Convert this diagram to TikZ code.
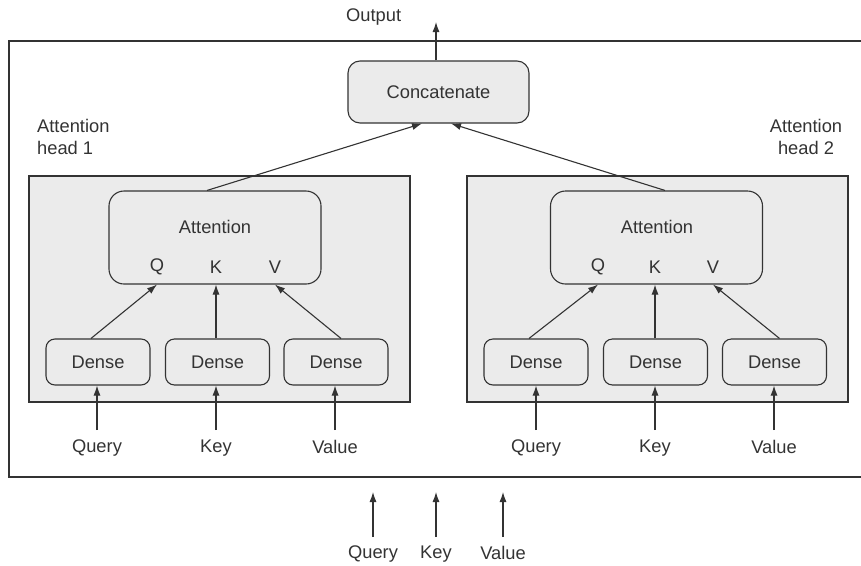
\documentclass[tikz,border=0pt]{standalone}
\usepackage{fontspec}
\setmainfont{Liberation Sans}
\usetikzlibrary{arrows.meta}
\definecolor{ink}{HTML}{333333}
\definecolor{panel}{HTML}{EBEBEB}
\tikzset{
  base/.style={font=\fontsize{18.3}{22}\selectfont, text=ink},
  rbox/.style={draw=ink, line width=1.1pt, fill=panel, rounded corners=9pt, inner sep=0pt},
  arr/.style={draw=ink, line width=1.1pt, -{Latex[length=10pt,width=7pt]}},
  lab/.style={base, inner xsep=0pt, inner ysep=0pt},
  inlab/.style={base, anchor=north, inner xsep=0pt, inner ysep=10pt},
}
\begin{document}
\begin{tikzpicture}[x=1pt,y=-1pt]
\useasboundingbox (0,0) rectangle (861,565);
\clip (0,0) rectangle (861,565);
% outer frame
\draw[ink, line width=1.2pt] (870,41) -- (9,41) -- (9,477) -- (870,477);

% concatenate and output
\node[rbox, base, minimum width=181pt, minimum height=62pt, rounded corners=12pt] (conc) at (438.5,92) {Concatenate};
\node[base, anchor=base west, inner sep=0pt] (out) at (346,21) {Output};
\coordinate (outtip) at (436,22);
\draw[arr] (conc.north -| outtip) -- (outtip);

% head labels
\node[base, anchor=north west, align=left, inner sep=0pt] (h1lab) at (37,119) {Attention\\head 1};
\node[base, anchor=north, align=center, inner sep=0pt] (h2lab) at (806,119) {Attention\\head 2};

% head 1
\node[draw=ink, line width=1.1pt, fill=panel, minimum width=381pt, minimum height=226pt, inner sep=0pt] (p1) at (219.5,289) {};
\node[rbox, minimum width=212pt, minimum height=93pt, rounded corners=15pt] (a1) at (215,237.5) {};
\node[lab] (a1t) at (215,227) {Attention};
\node[lab] (q1) at (157,267) {Q};
\node[lab] (k1) at (216,267) {K};
\node[lab] (v1) at (275,267) {V};
\node[rbox, base, minimum width=104pt, minimum height=46pt] (d11) at (98,362) {Dense};
\node[rbox, base, minimum width=104pt, minimum height=46pt] (d12) at (217.5,362) {Dense};
\node[rbox, base, minimum width=104pt, minimum height=46pt] (d13) at (336,362) {Dense};
\draw[arr] ([xshift=-7pt]d11.north) -- (a1.south -| q1);
\draw[arr] (d12.north -| k1) -- (a1.south -| k1);
\draw[arr] ([xshift=5pt]d13.north) -- (a1.south -| v1);
\node[inlab] (i11) at (97,430) {Query};
\node[inlab] (i12) at (216,430) {Key};
\node[inlab] (i13) at (335,430) {Value};
\draw[arr] (i11.north) -- (i11.north |- d11.south);
\draw[arr] (i12.north) -- (i12.north |- d12.south);
\draw[arr] (i13.north) -- (i13.north |- d13.south);

% head 2
\node[draw=ink, line width=1.1pt, fill=panel, minimum width=381pt, minimum height=226pt, inner sep=0pt] (p2) at (657.5,289) {};
\node[rbox, minimum width=212pt, minimum height=93pt, rounded corners=15pt] (a2) at (656.5,237.5) {};
\node[lab] (a2t) at (657,227) {Attention};
\node[lab] (q2) at (598,267) {Q};
\node[lab] (k2) at (655,267) {K};
\node[lab] (v2) at (713,267) {V};
\node[rbox, base, minimum width=104pt, minimum height=46pt] (d21) at (536,362) {Dense};
\node[rbox, base, minimum width=104pt, minimum height=46pt] (d22) at (655.5,362) {Dense};
\node[rbox, base, minimum width=104pt, minimum height=46pt] (d23) at (774.5,362) {Dense};
\draw[arr] ([xshift=-7pt]d21.north) -- (a2.south -| q2);
\draw[arr] (d22.north -| k2) -- (a2.south -| k2);
\draw[arr] ([xshift=5pt]d23.north) -- (a2.south -| v2);
\node[inlab] (i21) at (536,430) {Query};
\node[inlab] (i22) at (655,430) {Key};
\node[inlab] (i23) at (774,430) {Value};
\draw[arr] (i21.north) -- (i21.north |- d21.south);
\draw[arr] (i22.north) -- (i22.north |- d22.south);
\draw[arr] (i23.north) -- (i23.north |- d23.south);

% heads to concatenate
\draw[arr] ([xshift=-8pt]a1.north) -- ([xshift=-16.5pt]conc.south);
\draw[arr] ([xshift=8.5pt]a2.north) -- ([xshift=12.5pt]conc.south);

% bottom inputs
\node[inlab, inner ysep=9pt] (bq) at (373,537) {Query};
\node[inlab, inner ysep=9pt] (bk) at (436,537) {Key};
\node[inlab, inner ysep=9pt] (bv) at (503,537) {Value};
\coordinate (bqt) at (373,492);
\coordinate (bkt) at (436,492);
\coordinate (bvt) at (503,492);
\draw[arr] (bq.north) -- (bqt);
\draw[arr] (bk.north) -- (bkt);
\draw[arr] (bv.north) -- (bvt);
\end{tikzpicture}
\end{document}
